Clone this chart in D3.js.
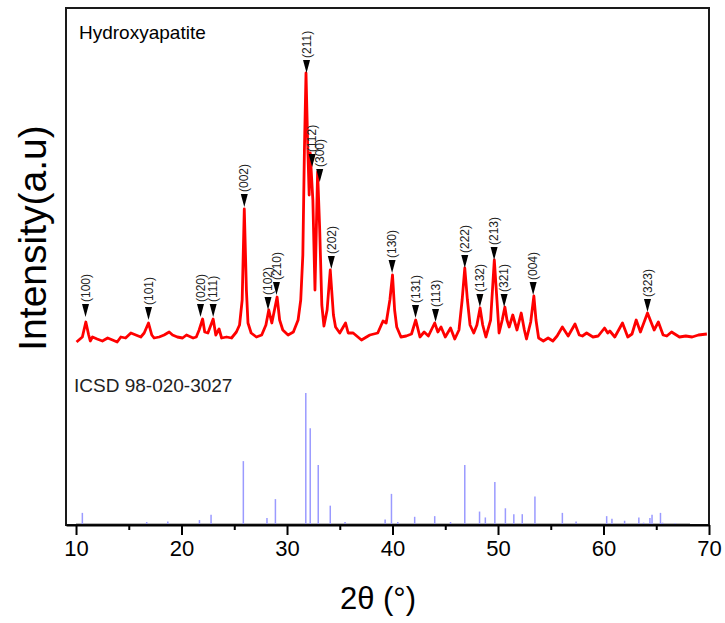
<!DOCTYPE html>
<html>
<head>
<meta charset="utf-8">
<script src="https://cdn.jsdelivr.net/npm/d3@7"></script>
<style>
  body { margin: 0; background: #fff; }
  text { font-family: Arial, "Liberation Sans", sans-serif; }
</style>
</head>
<body>
<div id="chart"></div>
<script>
// Measured XRD pattern (2theta, intensity a.u.)
let obsTheta = [10.05, 10.6, 10.93, 11.2, 11.35, 11.56, 12.0, 12.5, 13.0, 13.46, 13.9, 14.25, 14.7, 15.2, 15.67,
    16.14, 16.46, 16.87, 17.18, 17.4, 17.88, 18.35, 18.83, 19.15, 19.6, 20.1, 20.47, 21.1, 21.4, 21.67,
    22.0, 22.2, 22.5, 23.0, 23.25, 23.56, 23.8, 24.27, 24.74, 25.2, 25.5, 25.75, 25.95, 26.15, 26.3,
    26.6, 27.1, 27.6, 28.0, 28.27, 28.56, 29.06, 29.3, 29.6, 30.1, 30.6, 31.05, 31.3, 31.5, 31.65,
    31.8, 31.95, 32.1, 32.2, 32.45, 32.65, 32.9, 33.1, 33.3, 33.5, 33.8, 34.1, 34.4, 34.6, 35.0,
    35.55, 35.8, 36.27, 37.06, 37.85, 38.6, 39.1, 39.4, 39.75, 40.0, 40.2, 40.4, 40.8, 41.3, 41.8,
    42.2, 42.6, 43.0, 43.4, 44.0, 44.3, 44.6, 45.0, 45.5, 45.9, 46.3, 46.6, 46.85, 47.1, 47.35,
    47.7, 48.0, 48.3, 48.55, 48.85, 49.3, 49.65, 49.9, 50.1, 50.4, 50.65, 50.85, 51.06, 51.4, 51.8,
    52.2, 52.5, 52.7, 53.1, 53.4, 53.6, 53.85, 54.3, 54.75, 55.2, 55.6, 56.1, 56.65, 57.3, 57.7,
    58.0, 58.4, 59.0, 59.5, 60.1, 60.4, 60.6, 61.07, 61.8, 62.3, 62.7, 63.1, 63.5, 64.17, 64.8,
    65.2, 65.65, 66.0, 66.45, 67.2, 67.8, 68.4, 69.0, 69.8];
let obsInt = [32, 52, 112, 60, 36, 52, 44, 36, 48, 40, 32, 52, 48, 68, 60,
    52, 68, 108, 60, 48, 52, 60, 72, 60, 52, 48, 60, 48, 52, 80,
    124, 72, 68, 124, 60, 84, 48, 52, 48, 72, 100, 200, 564, 240, 108,
    68, 52, 60, 100, 160, 108, 212, 120, 80, 60, 72, 120, 200, 380, 800,
    1108, 840, 620, 788, 600, 240, 712, 480, 180, 96, 160, 320, 140, 92, 68,
    108, 68, 68, 40, 60, 68, 116, 108, 200, 300, 160, 92, 52, 56, 64,
    120, 52, 72, 56, 108, 72, 92, 52, 88, 44, 80, 200, 328, 200, 100,
    68, 100, 168, 100, 52, 120, 360, 200, 68, 120, 172, 120, 92, 140, 80,
    148, 80, 44, 112, 216, 120, 48, 36, 48, 36, 56, 92, 56, 104, 60,
    56, 68, 52, 56, 88, 68, 76, 52, 108, 52, 64, 120, 72, 148, 80,
    112, 60, 56, 72, 52, 56, 52, 60, 64];

// Reference pattern ICSD 98-020-3027 (relative intensity)
let refTheta = [10.6, 16.7, 18.7, 21.7, 22.8, 25.86, 28.1, 28.9, 31.78, 32.2, 32.96, 34.1, 35.5, 39.3,
    39.9, 40.5, 42.1, 44.0, 45.5, 46.85, 48.25, 48.8, 49.7, 50.7, 51.5, 52.3, 53.5, 56.1, 57.4,
    60.3, 60.8, 62.0, 63.35, 63.8, 64.4, 64.6, 65.4, 65.6, 66.8];
let refInt = [8.5, 1.5, 2, 3, 7, 48, 4.5, 19, 100, 73, 45, 14, 1.5, 3.5,
    23, 1.5, 5.5, 6, 1.5, 45, 9.5, 5, 32, 12, 7.5, 7.5, 21, 8.5, 2,
    6, 4, 2.5, 5, 1, 4.5, 7, 8.5, 1, 0.5];
let refRange = [10, 68.2];

// Peak indexing
let hklLabels = ['(100)', '(101)', '(020)', '(111)', '(002)', '(102)', '(210)', '(211)', '(112)', '(300)',
    '(202)', '(130)', '(131)', '(113)', '(222)', '(132)', '(213)', '(321)', '(004)', '(323)'];
let hklTheta = [10.9, 16.87, 21.8, 23.0, 25.95, 28.2, 29.0, 31.85, 32.38, 33.1,
    34.2, 39.96, 42.18, 44.08, 46.85, 48.28, 49.63, 50.58, 53.33, 64.17];
let hklMark = [132, 120, 132, 132, 572, 160, 220, 1108, 732, 672,
    324, 308, 128, 112, 328, 172, 360, 172, 220, 152];

let xTicks = [10, 20, 30, 40, 50, 60, 70];
let xMinor = [15, 25, 35, 45, 55, 65];

let svgWidth = 725, svgHeight = 623;
let plot = { left: 66, right: 709, top: 8, bottom: 525 };

let svg = d3.select('#chart')
            .append('svg')
            .attr('width', svgWidth)
            .attr('height', svgHeight);

let xScale = d3.scaleLinear().domain([9.05, 70]).range([plot.left, plot.right]);
let yTop = d3.scaleLinear().domain([0, 1120]).range([350, 70]);
let yBot = d3.scaleLinear().domain([0, 100]).range([524, 393]);

// Reference sticks
svg.append('line')
    .attr('x1', xScale(refRange[0])).attr('x2', xScale(refRange[1]))
    .attr('y1', yBot(0)).attr('y2', yBot(0))
    .attr('stroke', '#b4b4b4').attr('stroke-width', 2);

svg.selectAll('.stick')
    .data(refTheta)
    .enter()
    .append('line')
    .attr('class', 'stick')
    .attr('x1', d => xScale(d)).attr('x2', d => xScale(d))
    .attr('y1', yBot(0))
    .attr('y2', (d, i) => yBot(refInt[i]))
    .attr('stroke', '#9a9aff')
    .attr('stroke-width', 1.5);

// Measured pattern
let line = d3.line()
    .x((d, i) => xScale(obsTheta[i]))
    .y(d => yTop(d));

svg.append('path')
    .datum(obsInt)
    .attr('d', line)
    .attr('fill', 'none')
    .attr('stroke', '#ff0000')
    .attr('stroke-width', 2.8)
    .attr('stroke-linejoin', 'round');

// Peak markers and hkl labels
let markGrp = svg.selectAll('.mark')
    .data(hklLabels)
    .enter()
    .append('g')
    .attr('class', 'mark')
    .attr('transform', (d, i) => `translate(${xScale(hklTheta[i])}, ${yTop(hklMark[i])})`);

markGrp.append('path')
    .attr('d', 'M-3.5,-13 L3.5,-13 L0,0 Z')
    .attr('fill', '#000');

markGrp.append('text')
    .attr('transform', 'translate(0,-15) rotate(-90)')
    .attr('dy', '0.35em')
    .attr('font-size', 12)
    .attr('fill', '#222')
    .text(d => d);

// Frame
svg.append('rect')
    .attr('x', plot.left).attr('y', plot.top)
    .attr('width', plot.right - plot.left)
    .attr('height', plot.bottom - plot.top)
    .attr('fill', 'none')
    .attr('stroke', '#1a1a1a')
    .attr('stroke-width', 2);

// X axis
let xAxis = d3.axisBottom(xScale)
    .tickValues(xTicks)
    .tickSize(10)
    .tickSizeOuter(0)
    .tickPadding(5);

let axG = svg.append('g')
    .attr('transform', `translate(0, ${plot.bottom})`)
    .call(xAxis);
axG.select('.domain').attr('stroke-width', 2).attr('stroke', '#000');
axG.selectAll('.tick line').attr('stroke-width', 2);
axG.selectAll('.tick text').attr('font-size', 22).attr('fill', '#000')
    .attr('font-family', 'Arial, "Liberation Sans", sans-serif');

let minorG = svg.append('g')
    .attr('transform', `translate(0, ${plot.bottom})`)
    .call(d3.axisBottom(xScale).tickValues(xMinor).tickSize(5).tickFormat(''));
minorG.select('.domain').remove();
minorG.selectAll('.tick line').attr('stroke-width', 2);

// Text
svg.append('text')
    .attr('x', 79).attr('y', 39)
    .attr('font-size', 19)
    .text('Hydroxyapatite');

svg.append('text')
    .attr('x', 74).attr('y', 392)
    .attr('font-size', 19)
    .attr('fill', '#222')
    .text('ICSD 98-020-3027');

svg.append('text')
    .attr('x', 378).attr('y', 609)
    .attr('text-anchor', 'middle')
    .attr('font-size', 31)
    .text('2θ (°)');

svg.append('text')
    .attr('transform', 'translate(46, 238) rotate(-90)')
    .attr('text-anchor', 'middle')
    .attr('font-size', 39)
    .text('Intensity(a.u)');
</script>
</body>
</html>
